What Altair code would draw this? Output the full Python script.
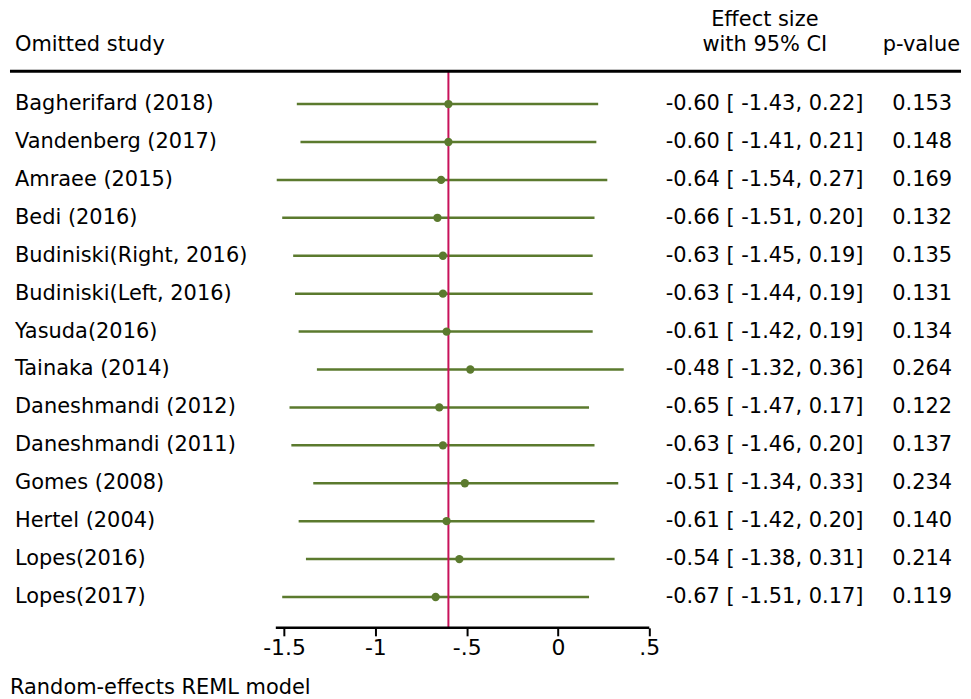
import altair as alt
import pandas as pd

studies = ["Bagherifard (2018)", "Vandenberg (2017)", "Amraee (2015)", "Bedi (2016)",
           "Budiniski(Right, 2016)", "Budiniski(Left, 2016)", "Yasuda(2016)", "Tainaka (2014)",
           "Daneshmandi (2012)", "Daneshmandi (2011)", "Gomes (2008)", "Hertel (2004)",
           "Lopes(2016)", "Lopes(2017)"]
effect = [-0.60, -0.60, -0.64, -0.66, -0.63, -0.63, -0.61, -0.48, -0.65, -0.63, -0.51, -0.61, -0.54, -0.67]
lower = [-1.43, -1.41, -1.54, -1.51, -1.45, -1.44, -1.42, -1.32, -1.47, -1.46, -1.34, -1.42, -1.38, -1.51]
upper = [0.22, 0.21, 0.27, 0.20, 0.19, 0.19, 0.19, 0.36, 0.17, 0.20, 0.33, 0.20, 0.31, 0.17]
pvalues = ["0.153", "0.148", "0.169", "0.132", "0.135", "0.131", "0.134", "0.264",
           "0.122", "0.137", "0.234", "0.140", "0.214", "0.119"]
overall = -0.60
tick_values = [-1.5, -1.0, -0.5, 0.0, 0.5]
tick_labels = ["-1.5", "-1", "-.5", "0", ".5"]
axis_range = [-1.545, 0.5]

FONT = "DejaVu Sans"
GREEN = "#5b7a2e"
RED = "#c8125a"
FS = 21

df = pd.DataFrame({
    "row": list(range(len(studies))),
    "study": studies,
    "effect": effect,
    "lower": lower,
    "upper": upper,
    "es_text": [f"{e:.2f} [ {l:.2f}, {u:.2f}]" for e, l, u in zip(effect, lower, upper)],
    "p": pvalues,
})

W, H = 955, 619
x_scale = alt.Scale(domain=[-3.0005, 2.2067], nice=False, zero=False)
y_scale = alt.Scale(domain=[-2.4422, 13.8130], reverse=True, nice=False, zero=False)

label_expr = " : ".join(
    [f"datum.value == {v} ? '{t}'" for v, t in zip(tick_values[:-1], tick_labels[:-1])]
) + f" : '{tick_labels[-1]}'"

base = alt.Chart(df)

ci = base.mark_rule(color=GREEN, strokeWidth=2.5).encode(
    x=alt.X("lower:Q", scale=x_scale, axis=alt.Axis(
        values=tick_values, labelExpr=label_expr, grid=False, domain=False,
        ticks=True, tickColor="black", tickSize=8, tickWidth=2,
        labelFontSize=22, labelFont=FONT, labelColor="black", labelPadding=2,
        title=None)),
    x2="upper:Q",
    y=alt.Y("row:Q", scale=y_scale, axis=None),
)
pts = base.mark_circle(size=70, color=GREEN, opacity=1).encode(
    x="effect:Q", y="row:Q")

labels = base.mark_text(align="left", baseline="middle", fontSize=FS, font=FONT, color="black").encode(
    x=alt.value(5), y="row:Q", text="study:N")
es = base.mark_text(align="right", baseline="middle", fontSize=FS, font=FONT, color="black").encode(
    x=alt.value(857), y="row:Q", text="es_text:N")
pv = base.mark_text(align="right", baseline="middle", fontSize=FS, font=FONT, color="black").encode(
    x=alt.value(946), y="row:Q", text="p:N")

ref = alt.Chart(pd.DataFrame({"v": [overall]})).mark_rule(color=RED, strokeWidth=2).encode(
    x="v:Q", y=alt.value(60), y2=alt.value(H))

axis_line = alt.Chart(pd.DataFrame({"a": [axis_range[0]], "b": [axis_range[1]]})).mark_rule(
    color="black", strokeWidth=2.5).encode(x="a:Q", x2="b:Q", y=alt.value(H))

header_rule = alt.Chart(pd.DataFrame({"k": [0]})).mark_rule(color="black", strokeWidth=3).encode(
    x=alt.value(0), x2=alt.value(W), y=alt.value(60))


def txt(s, x, y, align):
    return alt.Chart(pd.DataFrame({"t": [s]})).mark_text(
        align=align, baseline="middle", fontSize=FS, font=FONT, color="black").encode(
        text="t:N", x=alt.value(x), y=alt.value(y))


h1 = txt("Omitted study", 5, 34, "left")
h2 = txt("Effect size", 758, 9, "center")
h3 = txt("with 95% CI", 758, 34, "center")
h4 = txt("p-value", 954, 34, "right")
foot = alt.Chart(pd.DataFrame({"t": ["Random-effects REML model"]})).mark_text(
    align="left", baseline="alphabetic", fontSize=FS, font=FONT, color="black").encode(
    text="t:N", x=alt.value(0), y=alt.value(685))

chart = alt.layer(ci, ref, pts, labels, es, pv, axis_line, header_rule, h1, h2, h3, h4, foot).properties(
    width=W, height=H, padding=0, background="white"
).configure_view(stroke=None)

chart.save("out.html", embed_options={"renderer": "svg", "actions": False})
